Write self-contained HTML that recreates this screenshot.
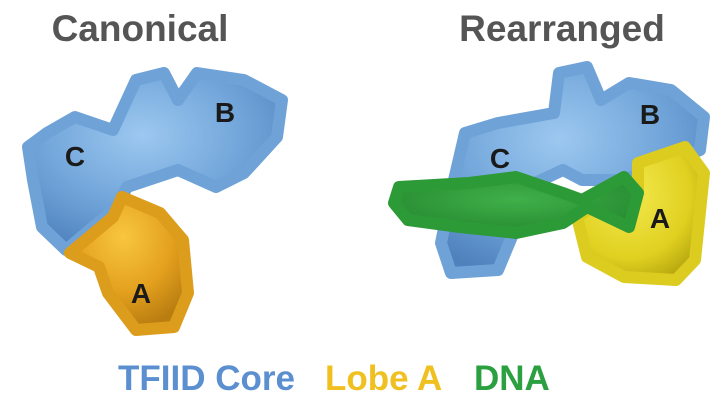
<!DOCTYPE html>
<html><head><style>
body{margin:0;background:#fff;width:727px;height:400px;overflow:hidden;font-family:"Liberation Sans",sans-serif}
</style></head><body>
<svg width="727" height="400" viewBox="0 0 727 400" xmlns="http://www.w3.org/2000/svg">
<defs>
<radialGradient id="bl" cx="45%" cy="35%" r="70%"><stop offset="0" stop-color="#9cc8f0"/><stop offset="0.6" stop-color="#6fa3d8"/><stop offset="1" stop-color="#4f82bd"/></radialGradient>
<radialGradient id="or" cx="45%" cy="30%" r="70%"><stop offset="0" stop-color="#f8c640"/><stop offset="0.6" stop-color="#e3a01e"/><stop offset="1" stop-color="#b97d10"/></radialGradient>
<radialGradient id="ye" cx="40%" cy="35%" r="70%"><stop offset="0" stop-color="#f4ea50"/><stop offset="0.7" stop-color="#e0d020"/><stop offset="1" stop-color="#b8a810"/></radialGradient>
<radialGradient id="gr" cx="50%" cy="40%" r="70%"><stop offset="0" stop-color="#3fb04a"/><stop offset="1" stop-color="#23852c"/></radialGradient>
</defs>
<g stroke-linejoin="round" stroke-width="12">
<polygon fill="url(#bl)" stroke="#6fa3d8" points="75,117 113,130 136,80 164,73 178,100 197,73 244,80 282,100 277,137 244,173 216,187 178,170 127,187 117,207 66,250 42,227 33,180 28,147 47,133"/>
<polygon fill="url(#or)" stroke="#dc9c1c" points="122,197 160,213 183,240 188,293 174,327 136,330 108,293 99,267 70,253 113,217"/>
<polygon fill="url(#bl)" stroke="#6fa3d8" points="465,133 498,123 554,113 559,73 587,67 601,100 629,83 671,90 704,117 700,150 624,180 582,180 563,170 535,183 516,227 498,270 451,273 441,243 451,193"/>
<polygon fill="url(#ye)" stroke="#dccc20" points="638,163 685,147 704,173 695,260 676,280 624,277 587,257 577,217 592,207 629,227 638,193"/>
<polygon fill="url(#gr)" stroke="#2c9a36" points="399,187 469,183 516,177 563,193 582,200 624,177 638,193 629,227 587,207 563,223 516,233 460,227 408,220 394,203"/>
</g>
<g font-family="Liberation Sans, sans-serif" font-weight="bold" fill="#1a1a1a" font-size="28" text-anchor="middle">
<text x="225" y="122">B</text><text x="75" y="166">C</text><text x="141" y="303">A</text>
<text x="650" y="124">B</text><text x="500" y="168">C</text><text x="660" y="228">A</text>
</g>
<g font-family="Liberation Sans, sans-serif" font-weight="bold" font-size="37" fill="#555" text-anchor="middle">
<text x="140" y="41">Canonical</text><text x="562" y="41">Rearranged</text>
</g>
<g font-family="Liberation Sans, sans-serif" font-weight="bold" font-size="35">
<text x="118" y="390" fill="#5b8fd0">TFIID Core</text>
<text x="325" y="390" fill="#f0c020">Lobe A</text>
<text x="474" y="390" fill="#2aa040">DNA</text>
</g>
</svg>
</body></html>
